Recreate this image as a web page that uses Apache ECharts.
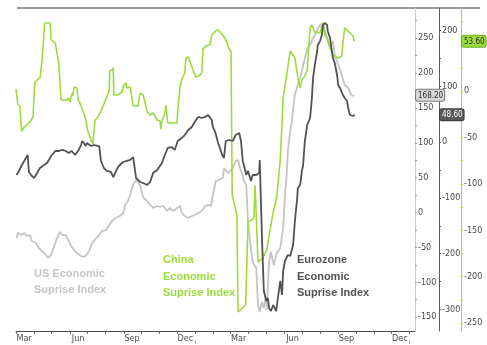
<!DOCTYPE html>
<html>
<head>
<meta charset="utf-8">
<script src="https://cdn.jsdelivr.net/npm/echarts@6/dist/echarts.min.js"></script>
<style>
  html, body { margin: 0; padding: 0; background: #ffffff; }
  #chart { width: 487px; height: 345px; }
</style>
</head>
<body>
<div id="chart"></div>
<script>
// Economic surprise indices (US, China, Eurozone), Mar 2019 - Sep 2020

const monthNames = ['Jan', 'Feb', 'Mar', 'Apr', 'May', 'Jun', 'Jul', 'Aug', 'Sep', 'Oct', 'Nov', 'Dec'];
const quarterLabelDates = ['2019-03-15', '2019-06-15', '2019-09-15', '2019-12-15',
                           '2020-03-15', '2020-06-15', '2020-09-15', '2020-12-15'];
const yearStarts = ['2020-01-01', '2021-01-01'];

const usTicks = [-150, -100, -50, 0, 50, 100, 150, 200, 250];
const euroTicks = [-300, -200, -100, 0, 100, 200];
const chinaTicks = [-250, -200, -150, -100, -50, 0];

const usLast = 168.20;
const euroLast = 48.60;
const chinaLast = 53.60;

const usSeries = [
  ['2019-03-02', -36.6], ['2019-03-04', -29.4], ['2019-03-10', -32.3], ['2019-03-15', -29.4],
  ['2019-03-20', -33.7], ['2019-03-25', -32.3], ['2019-03-28', -40.9], ['2019-04-04', -43.7],
  ['2019-04-09', -50.9], ['2019-04-14', -55.2], ['2019-04-21', -60.9], ['2019-04-25', -65.2],
  ['2019-04-30', -60.9], ['2019-05-05', -48.0], ['2019-05-10', -36.6], ['2019-05-15', -27.9],
  ['2019-05-19', -32.3], ['2019-05-25', -32.3], ['2019-05-30', -40.9], ['2019-06-03', -48.0],
  ['2019-06-08', -53.8], ['2019-06-13', -58.1], ['2019-06-20', -62.4], ['2019-06-25', -63.8],
  ['2019-06-29', -60.9], ['2019-07-04', -55.2], ['2019-07-09', -43.7], ['2019-07-16', -36.6],
  ['2019-07-21', -32.3], ['2019-07-26', -26.5], ['2019-08-02', -25.1], ['2019-08-07', -17.9],
  ['2019-08-12', -12.2], ['2019-08-17', -7.9], ['2019-08-25', -5.0], ['2019-08-31', -0.7],
  ['2019-09-03', 10.8], ['2019-09-08', 16.5], ['2019-09-12', 25.1], ['2019-09-15', 35.1],
  ['2019-09-18', 42.3], ['2019-09-22', 46.6], ['2019-09-25', 45.2], ['2019-09-29', 38.0],
  ['2019-10-02', 28.0], ['2019-10-05', 20.8], ['2019-10-11', 16.5], ['2019-10-16', 10.8],
  ['2019-10-21', 6.5], ['2019-10-28', 9.3], ['2019-11-02', 7.9], ['2019-11-07', 9.3],
  ['2019-11-14', 2.2], ['2019-11-19', 6.5], ['2019-11-24', 2.2], ['2019-12-01', 6.5],
  ['2019-12-06', 9.3], ['2019-12-09', -0.7], ['2019-12-14', -5.0], ['2019-12-20', -7.9],
  ['2019-12-26', -5.0], ['2019-12-31', -3.6], ['2020-01-06', -0.7], ['2020-01-12', 2.2],
  ['2020-01-18', 9.3], ['2020-01-23', 10.8], ['2020-01-28', 9.3], ['2020-01-31', 25.1],
  ['2020-02-05', 45.2], ['2020-02-10', 46.6], ['2020-02-17', 49.5], ['2020-02-19', 63.8],
  ['2020-02-26', 56.6], ['2020-02-29', 58.1], ['2020-03-05', 63.8], ['2020-03-10', 73.8],
  ['2020-03-14', 75.3], ['2020-03-16', 68.1], ['2020-03-19', 59.5], ['2020-03-22', 53.8],
  ['2020-03-24', 45.2], ['2020-03-28', 39.4], ['2020-03-31', -12.2], ['2020-04-05', -53.8],
  ['2020-04-08', -71.0], ['2020-04-14', -79.6], ['2020-04-17', -132.6], ['2020-04-20', -142.6],
  ['2020-04-24', -128.3], ['2020-04-27', -136.9], ['2020-05-01', -119.7], ['2020-05-02', -139.8],
  ['2020-05-06', -71.0], ['2020-05-09', -56.6], ['2020-05-14', -75.3], ['2020-05-19', -58.1],
  ['2020-05-25', -50.9], ['2020-05-30', -22.2], ['2020-06-02', 25.1], ['2020-06-05', 53.8],
  ['2020-06-07', 88.2], ['2020-06-11', 116.8], ['2020-06-14', 131.2], ['2020-06-16', 149.8],
  ['2020-06-19', 168.5], ['2020-06-24', 182.8], ['2020-06-28', 192.8], ['2020-07-01', 202.9],
  ['2020-07-06', 221.5], ['2020-07-11', 235.8], ['2020-07-15', 240.1], ['2020-07-20', 250.2],
  ['2020-07-27', 260.2], ['2020-07-28', 264.5], ['2020-08-01', 268.8], ['2020-08-06', 271.7],
  ['2020-08-09', 261.7], ['2020-08-13', 250.2], ['2020-08-18', 235.8], ['2020-08-23', 245.9],
  ['2020-08-26', 225.8], ['2020-09-01', 211.5], ['2020-09-07', 197.2], ['2020-09-12', 182.8],
  ['2020-09-18', 178.5], ['2020-09-24', 167.0], ['2020-09-28', 168.2]
];

const euroSeries = [
  ['2019-03-02', -59.1], ['2019-03-06', -51.9], ['2019-03-11', -41.2], ['2019-03-16', -32.2],
  ['2019-03-21', -23.3], ['2019-03-23', -53.7], ['2019-03-28', -60.9], ['2019-04-01', -64.5],
  ['2019-04-04', -59.1], ['2019-04-08', -51.9], ['2019-04-11', -46.6], ['2019-04-18', -41.2],
  ['2019-04-23', -37.6], ['2019-04-26', -32.2], ['2019-04-30', -25.1], ['2019-05-03', -23.3],
  ['2019-05-07', -16.1], ['2019-05-10', -14.3], ['2019-05-13', -16.1], ['2019-05-19', -14.3],
  ['2019-05-25', -16.1], ['2019-05-30', -19.7], ['2019-06-04', -16.1], ['2019-06-10', -23.3],
  ['2019-06-16', -14.3], ['2019-06-20', -5.4], ['2019-06-22', 1.8], ['2019-06-25', -1.8],
  ['2019-06-28', -7.2], ['2019-06-30', -1.8], ['2019-07-07', -7.2], ['2019-07-12', -5.4],
  ['2019-07-21', -7.2], ['2019-07-24', -34.0], ['2019-07-29', -46.6], ['2019-08-03', -51.9],
  ['2019-08-10', -53.7], ['2019-08-14', -62.7], ['2019-08-17', -60.9], ['2019-08-22', -44.8],
  ['2019-08-27', -39.4], ['2019-08-31', -35.8], ['2019-09-06', -34.0], ['2019-09-12', -32.2],
  ['2019-09-17', -26.9], ['2019-09-20', -26.9], ['2019-09-22', -64.5], ['2019-09-29', -71.6],
  ['2019-10-04', -73.4], ['2019-10-11', -77.0], ['2019-10-16', -71.6], ['2019-10-21', -55.5],
  ['2019-10-28', -50.1], ['2019-11-05', -37.6], ['2019-11-10', -23.3], ['2019-11-15', -10.7],
  ['2019-11-22', -9.0], ['2019-11-27', -14.3], ['2019-12-02', 1.8], ['2019-12-09', 7.2],
  ['2019-12-14', 12.5], ['2019-12-20', 21.5], ['2019-12-26', 26.9], ['2019-12-31', 35.8],
  ['2020-01-06', 44.8], ['2020-01-12', 43.0], ['2020-01-18', 44.8], ['2020-01-23', 48.4],
  ['2020-01-26', 51.9], ['2020-01-29', 39.4], ['2020-01-31', 26.9], ['2020-02-04', 17.9],
  ['2020-02-09', -1.8], ['2020-02-12', -10.7], ['2020-02-16', -23.3], ['2020-02-19', -28.7],
  ['2020-02-22', 1.8], ['2020-02-28', 3.6], ['2020-03-05', 1.8], ['2020-03-10', 12.5],
  ['2020-03-16', 16.1], ['2020-03-19', 1.8], ['2020-03-22', -34.0], ['2020-03-24', -41.2],
  ['2020-03-28', -59.1], ['2020-03-31', -51.9], ['2020-04-05', -69.8], ['2020-04-08', -59.1],
  ['2020-04-14', -59.1], ['2020-04-19', -55.5], ['2020-04-20', -32.2], ['2020-04-22', -32.2],
  ['2020-04-24', -177.3], ['2020-04-26', -238.2], ['2020-04-27', -266.9], ['2020-05-01', -284.8],
  ['2020-05-04', -279.4], ['2020-05-06', -297.3], ['2020-05-09', -302.7], ['2020-05-13', -291.9],
  ['2020-05-18', -302.7], ['2020-05-21', -279.4], ['2020-05-25', -248.9], ['2020-05-28', -274.0],
  ['2020-05-30', -231.0], ['2020-06-02', -213.1], ['2020-06-07', -202.4], ['2020-06-11', -204.2],
  ['2020-06-16', -184.5], ['2020-06-19', -141.5], ['2020-06-23', -100.3], ['2020-06-24', -82.4],
  ['2020-06-28', -77.0], ['2020-07-01', -51.9], ['2020-07-03', -41.2], ['2020-07-06', 1.8],
  ['2020-07-10', 30.4], ['2020-07-15', 43.0], ['2020-07-18', 78.8], ['2020-07-20', 114.6],
  ['2020-07-23', 137.9], ['2020-07-27', 163.0], ['2020-07-28', 173.7], ['2020-08-01', 180.9],
  ['2020-08-04', 191.6], ['2020-08-06', 209.5], ['2020-08-09', 213.1], ['2020-08-13', 209.5],
  ['2020-08-14', 198.8], ['2020-08-18', 186.3], ['2020-08-21', 163.0], ['2020-08-23', 150.4],
  ['2020-08-26', 141.5], ['2020-08-30', 120.0], ['2020-09-01', 102.1], ['2020-09-04', 96.7],
  ['2020-09-09', 84.2], ['2020-09-12', 78.8], ['2020-09-16', 73.4], ['2020-09-18', 60.9],
  ['2020-09-21', 48.4], ['2020-09-26', 46.6], ['2020-09-29', 48.6]
];

const chinaSeries = [
  ['2019-03-01', 2.2], ['2019-03-04', -14.0], ['2019-03-08', -17.2], ['2019-03-10', -39.9],
  ['2019-03-11', -43.1], ['2019-03-15', -38.8], ['2019-03-25', -33.4], ['2019-03-30', -28.0],
  ['2019-04-02', 8.6], ['2019-04-06', 11.9], ['2019-04-11', 14.0], ['2019-04-14', 30.2],
  ['2019-04-16', 31.2], ['2019-04-19', 73.3], ['2019-04-28', 73.3], ['2019-04-30', 55.0],
  ['2019-05-07', 51.7], ['2019-05-10', 40.9], ['2019-05-13', 30.2], ['2019-05-17', -9.7],
  ['2019-05-27', -9.7], ['2019-05-29', -7.5], ['2019-06-01', -11.9], ['2019-06-05', -2.2],
  ['2019-06-06', -5.4], ['2019-06-08', 4.3], ['2019-06-13', 3.2], ['2019-06-15', -9.7],
  ['2019-06-18', -12.9], ['2019-06-27', -28.0], ['2019-07-02', -44.2], ['2019-07-10', -57.1],
  ['2019-07-14', -31.3], ['2019-07-19', -28.0], ['2019-07-27', -17.2], ['2019-08-03', -6.5],
  ['2019-08-07', 1.1], ['2019-08-08', 21.5], ['2019-08-12', 22.6], ['2019-08-14', 24.8],
  ['2019-08-15', -4.3], ['2019-08-22', -4.3], ['2019-08-29', -1.1], ['2019-09-01', 6.5],
  ['2019-09-05', 8.6], ['2019-09-06', 3.2], ['2019-09-12', 4.3], ['2019-09-17', -16.2],
  ['2019-09-25', -16.2], ['2019-09-29', -2.2], ['2019-10-04', -4.3], ['2019-10-11', -22.6],
  ['2019-10-16', -25.9], ['2019-10-21', -23.7], ['2019-10-28', -31.3], ['2019-11-02', -32.3],
  ['2019-11-03', -41.0], ['2019-11-05', -32.3], ['2019-11-07', -29.1], ['2019-11-10', -23.7],
  ['2019-11-12', -15.1], ['2019-11-14', -15.1], ['2019-11-15', -34.5], ['2019-12-01', -34.5],
  ['2019-12-02', -20.5], ['2019-12-06', 4.3], ['2019-12-09', 12.9], ['2019-12-14', 19.4],
  ['2019-12-16', 35.6], ['2019-12-20', 36.6], ['2019-12-23', 35.6], ['2019-12-28', 22.6],
  ['2020-01-02', 15.1], ['2020-01-07', 16.2], ['2020-01-12', 19.4], ['2020-01-14', 45.3],
  ['2020-01-19', 48.4], ['2020-01-26', 49.5], ['2020-01-29', 60.3], ['2020-02-02', 62.5],
  ['2020-02-05', 64.7], ['2020-02-09', 65.7], ['2020-02-12', 63.6], ['2020-02-17', 60.3],
  ['2020-02-24', 52.8], ['2020-02-27', 46.3], ['2020-03-02', 42.0], ['2020-03-04', -112.1],
  ['2020-03-12', -133.6], ['2020-03-14', -238.1], ['2020-03-27', -230.6], ['2020-03-31', -141.2],
  ['2020-04-10', -136.9], ['2020-04-12', -101.3], ['2020-04-15', -103.4], ['2020-04-17', -184.3],
  ['2020-04-25', -180.0], ['2020-05-02', -171.3], ['2020-05-07', -151.9], ['2020-05-13', -130.4],
  ['2020-05-19', -114.2], ['2020-05-25', -74.4], ['2020-05-30', -7.5], ['2020-06-05', 17.2],
  ['2020-06-11', 43.1], ['2020-06-14', 44.2], ['2020-06-19', 35.6], ['2020-06-24', 14.0],
  ['2020-06-28', 3.2], ['2020-07-01', 11.9], ['2020-07-06', 16.2], ['2020-07-10', 22.6],
  ['2020-07-15', 67.9], ['2020-07-18', 71.1], ['2020-07-20', 71.1], ['2020-07-23', 63.6],
  ['2020-08-01', 62.5], ['2020-08-04', 70.0], ['2020-08-06', 73.3], ['2020-08-09', 60.3],
  ['2020-08-13', 57.1], ['2020-08-18', 46.3], ['2020-08-23', 38.8], ['2020-09-01', 35.6],
  ['2020-09-07', 37.7], ['2020-09-09', 51.7], ['2020-09-12', 67.9], ['2020-09-16', 65.7],
  ['2020-09-21', 62.5], ['2020-09-26', 59.3], ['2020-09-28', 53.6]
];

// Parse 'YYYY-MM-DD' as a local date.
function toTime(s) {
  const p = s.split('-').map(Number);
  return new Date(p[0], p[1] - 1, p[2]).getTime();
}
const toPoints = (rows) => rows.map(r => [toTime(r[0]), r[1]]);

// Month-start ticks along the date axis.
const monthTicks = [];
for (let y = 2019, m = 2; y < 2021 || (y === 2021 && m === 0); ) {
  monthTicks.push(new Date(y, m, 1).getTime());
  m++; if (m > 11) { m = 0; y++; }
}

const dateMin = toTime('2019-03-01');
const dateMax = toTime('2021-01-10');

const GREEN = '#9bdc3c';
const DARK = '#525252';
const LIGHT = '#c4c4c4';
const AXIS_FONT = '"Liberation Sans Narrow", "DejaVu Sans Condensed", "Liberation Sans", sans-serif';
const NOTE_FONT = '"Liberation Sans", Arial, sans-serif';

function stepValues(lo, hi, step) {
  const out = [];
  for (let v = lo; v <= hi; v += step) out.push(v);
  return out;
}

function rightAxis(opts) {
  return {
    type: 'value',
    position: 'right',
    offset: opts.offset,
    min: opts.min,
    max: opts.max,
    splitLine: { show: false },
    axisLine: { show: true, onZero: false, lineStyle: { color: opts.lineColor, width: 1 } },
    axisTick: {
      show: true, inside: false, length: 2,
      customValues: opts.ticks,
      lineStyle: { color: opts.tickColor, width: 1 }
    },
    axisLabel: {
      show: true, margin: 3, color: '#4a4a4a', fontSize: 9, fontFamily: AXIS_FONT,
      customValues: opts.labels
    },
    axisPointer: {
      show: true,
      type: 'line',
      status: 'show',
      value: opts.last,
      triggerTooltip: false,
      lineStyle: { opacity: 0 },
      label: {
        show: true,
        margin: 1,
        formatter: (p) => Number(p.value).toFixed(2),
        backgroundColor: opts.badgeFill,
        borderColor: opts.badgeBorder,
        borderWidth: 1,
        borderRadius: 2,
        color: opts.badgeText,
        fontSize: 8,
        fontFamily: AXIS_FONT,
        padding: [2, 1, 1, 2]
      }
    }
  };
}

const chart = echarts.init(document.getElementById('chart'), null, { renderer: 'canvas' });

chart.setOption({
  animation: false,
  backgroundColor: '#ffffff',
  axisPointer: { triggerOn: 'none' },
  grid: { left: 16, right: 72, top: 8, bottom: 14, containLabel: false },
  xAxis: [
    {
      type: 'value',
      min: dateMin,
      max: dateMax,
      splitLine: { show: false },
      axisLine: { show: true, onZero: false, lineStyle: { color: '#4a4a4a', width: 1 } },
      axisTick: { show: true, length: 3, customValues: monthTicks, lineStyle: { color: '#6a6a6a' } },
      axisLabel: {
        show: true, margin: 3, color: '#4a4a4a', fontSize: 9, fontFamily: AXIS_FONT,
        customValues: quarterLabelDates.map(toTime),
        formatter: (v) => monthNames[new Date(v).getMonth()]
      }
    },
    {
      // Year boundaries: short marks below the month labels
      type: 'value',
      position: 'bottom',
      offset: 9,
      min: dateMin,
      max: dateMax,
      splitLine: { show: false },
      axisLine: { show: false, onZero: false },
      axisLabel: { show: false },
      axisTick: { show: true, length: 4, customValues: yearStarts.map(toTime), lineStyle: { color: '#b0b0b0' } }
    }
  ],
  yAxis: [
    rightAxis({
      offset: 0, min: -169.9, max: 293.2, lineColor: '#cfcfcf', tickColor: '#9a9a9a',
      ticks: stepValues(-150, 275, 25), labels: usTicks, last: usLast,
      badgeFill: '#d6d6d6', badgeBorder: '#7a7a7a', badgeText: '#333333'
    }),
    rightAxis({
      offset: 24, min: -338.5, max: 240, lineColor: '#5a5a5a', tickColor: '#4a4a4a',
      ticks: stepValues(-300, 200, 50), labels: euroTicks, last: euroLast,
      badgeFill: '#5a5a5a', badgeBorder: '#3a3a3a', badgeText: '#ffffff'
    }),
    rightAxis({
      offset: 46, min: -258.6, max: 89.4, lineColor: GREEN, tickColor: GREEN,
      ticks: stepValues(-250, 75, 25), labels: chinaTicks, last: chinaLast,
      badgeFill: GREEN, badgeBorder: '#6fae1e', badgeText: '#2a2a2a'
    })
  ],
  series: [
    {
      name: 'US Economic Suprise Index', type: 'line', xAxisIndex: 0, yAxisIndex: 0,
      data: toPoints(usSeries), showSymbol: false, symbol: 'none',
      lineStyle: { color: LIGHT, width: 1.8 }, z: 2
    },
    {
      name: 'China Economic Suprise Index', type: 'line', xAxisIndex: 0, yAxisIndex: 2,
      data: toPoints(chinaSeries), showSymbol: false, symbol: 'none',
      lineStyle: { color: GREEN, width: 1.6 }, z: 3
    },
    {
      name: 'Eurozone Economic Suprise Index', type: 'line', xAxisIndex: 0, yAxisIndex: 1,
      data: toPoints(euroSeries), showSymbol: false, symbol: 'none',
      lineStyle: { color: DARK, width: 1.8 }, z: 4
    }
  ],
  graphic: [
    { type: 'rect', left: 17, top: 7, shape: { width: 463, height: 2 }, style: { fill: '#9a9a9a' }, silent: true },
    {
      type: 'text', left: 34, top: 266, silent: true,
      style: { text: 'US Economic\nSuprise Index', fill: LIGHT, font: 'bold 11px ' + NOTE_FONT, lineHeight: 16 }
    },
    {
      type: 'text', left: 163, top: 252, silent: true,
      style: { text: 'China\nEconomic\nSuprise Index', fill: GREEN, font: 'bold 11px ' + NOTE_FONT, lineHeight: 16.5 }
    },
    {
      type: 'text', left: 297, top: 252, silent: true,
      style: { text: 'Eurozone\nEconomic\nSuprise Index', fill: DARK, font: 'bold 11px ' + NOTE_FONT, lineHeight: 16.5 }
    }
  ]
});
</script>
</body>
</html>
